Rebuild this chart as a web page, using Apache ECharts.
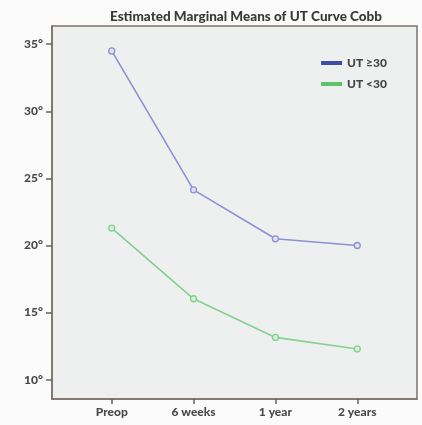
<!DOCTYPE html>
<html><head><meta charset="utf-8">
<script src="https://cdn.jsdelivr.net/npm/echarts@6/dist/echarts.min.js"></script>
<style>html,body{margin:0;padding:0;background:#fff}#c{width:422px;height:425px}</style>
</head><body><div id="c"></div>
<script>
var categories = ['Preop', '6 weeks', '1 year', '2 years'];
var seriesNames = ['UT \u226530', 'UT <30'];
var utHigh = [34.5, 24.15, 20.5, 20.0];
var utLow = [21.3, 16.03, 13.15, 12.29];
var yTicks = [10, 15, 20, 25, 30, 35];
var xTicks = [0, 1, 2, 3];

var FONT = 'Lato';
var chart = echarts.init(document.getElementById('c'));
function pts(arr){ return arr.map(function(v,i){ return [i, v]; }); }
chart.setOption({
  animation: false,
  backgroundColor: '#fbfbfb',
  title: {
    text: 'Estimated Marginal Means of UT Curve Cobb',
    left: 241, textAlign: 'center', top: 5,
    textStyle: { fontFamily: FONT, fontWeight: 900, fontSize: 13.5, color: '#3a3a3a' }
  },
  legend: {
    orient: 'vertical', right: 30, top: 52, itemGap: 9,
    icon: 'rect', itemWidth: 21, itemHeight: 4,
    textStyle: { fontFamily: FONT, fontWeight: 900, fontSize: 12, color: '#454545' },
    data: [
      { name: seriesNames[0], itemStyle: { color: '#3c4fa3', borderWidth: 0 } },
      { name: seriesNames[1], itemStyle: { color: '#5cc468', borderWidth: 0 } }
    ]
  },
  grid: {
    left: 52, top: 26, right: 5, bottom: 26,
    show: true, backgroundColor: '#eef0f0', borderColor: '#7c716a', borderWidth: 1.5
  },
  xAxis: {
    type: 'value', min: -0.73, max: 3.73, position: 'bottom',
    axisLine: { show: true, onZero: false, lineStyle: { color: '#7c716a', width: 1.5 } },
    splitLine: { show: false },
    axisTick: { show: true, inside: false, customValues: xTicks, length: 5, lineStyle: { color: '#6e625b', width: 1.5 } },
    axisLabel: {
      customValues: xTicks, margin: 7,
      formatter: function(v){ return categories[Math.round(v)]; },
      fontFamily: FONT, fontWeight: 900, fontSize: 12, color: '#4a4a4a'
    }
  },
  yAxis: {
    type: 'value', min: 8.56, max: 36.36, position: 'left',
    axisLine: { show: true, onZero: false, lineStyle: { color: '#7c716a', width: 1.5 } },
    splitLine: { show: false },
    axisTick: { show: true, inside: false, customValues: yTicks, length: 6, lineStyle: { color: '#6e625b', width: 1.5 } },
    axisLabel: {
      customValues: yTicks, margin: 9,
      formatter: function(v){ return v + '\u00b0'; },
      fontFamily: FONT, fontWeight: 900, fontSize: 12, color: '#4a4a4a'
    }
  },
  series: [
    {
      name: seriesNames[0], type: 'line', data: pts(utHigh),
      symbol: 'circle', symbolSize: 6,
      lineStyle: { color: '#8d90d2', width: 1.6 },
      itemStyle: { color: '#dfe0f3', borderColor: '#8d90d2', borderWidth: 1.3 }
    },
    {
      name: seriesNames[1], type: 'line', data: pts(utLow),
      symbol: 'circle', symbolSize: 6,
      lineStyle: { color: '#84d18f', width: 1.6 },
      itemStyle: { color: '#d3efd6', borderColor: '#84d18f', borderWidth: 1.3 }
    }
  ]
});
</script></body></html>
